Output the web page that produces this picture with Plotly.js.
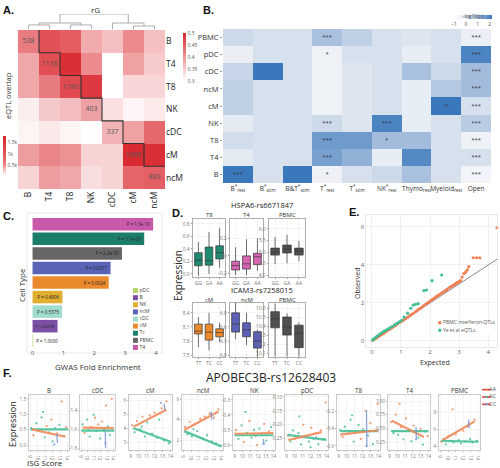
<!DOCTYPE html>
<html>
<head>
<meta charset="utf-8">
<script src="https://cdn.plot.ly/plotly-3.0.1.min.js"></script>
<style>
  html, body { margin: 0; padding: 0; background: #ffffff; }
  #fig { width: 500px; height: 468px; }
</style>
</head>
<body>
<div id="fig"></div>
<script>
// ---------- A: eQTL overlap (lower) and genetic correlation rG (upper) ----------
const cellTypesA = ['B', 'T4', 'T8', 'NK', 'cDC', 'cM', 'ncM'];
// diagonal = eQTLs per cell type, below diagonal = pairwise shared eQTLs
const eqtlOverlap = [
  [538],
  [382, 1118],
  [382, 540, 1180],
  [90, 248, 295, 403],
  [56, 108, 56, 10, 337],
  [421, 500, 461, 202, 202, 1686],
  [202, 421, 382, 155, 202, 810, 889]
];
// rG above the diagonal (row i, columns i+1 ..)
const geneticCorr = [
  [0.46, 0.45, 0.38, 0.36, 0.41, 0.36],
  [0.49, 0.41, 0.30, 0.39, 0.35],
  [0.48, 0.30, 0.34, 0.34],
  [0.33, 0.31, 0.32],
  [0.39, 0.44],
  [0.49],
  []
];
// clustering of rG: [left node, right node, merge height]; leaves are 0..6
const rgMerges = [[0, 1, 0.27], [2, 3, 0.27], [5, 6, 0.2], [7, 8, 0.4], [4, 9, 0.4], [10, 11, 1.0]];
const overlapTicks = [500, 1000, 1500];
const overlapTickText = ['0.5k', '1k', '1.5k'];
const rgTicks = [0.3, 0.35, 0.4, 0.45, 0.5];

// ---------- B: enrichment in chromatin annotations ----------
const annotSets = ['B<sup>*</sup><sub>rest</sub>', 'B<sup>*</sup><sub>stim</sub>', 'B&T<sup>*</sup><sub>stim</sub>',
  'T<sup>*</sup><sub>rest</sub>', 'T<sup>*</sup><sub>stim</sub>', 'NK<sup>*</sup><sub>rest</sub>',
  'Thymo<sub>rest</sub>', 'Myeloid<sub>rest</sub>', 'Open'];
const cellTypesB = ['PBMC', 'pDC', 'cDC', 'ncM', 'cM', 'NK', 'T8', 'T4', 'B'];
const enrichLogP = [
  [0.3, 0.1, 0.1, 0.9, 0.5, 0.1, 0.0, 0.1, -0.4],
  [-0.4, 0.1, 0.1, -0.5, 0.1, 0.1, -0.3, 0.1, 2.0],
  [0.4, 2.2, 0.1, -0.5, 0.0, 0.1, 0.9, 0.3, 1.0],
  [0.5, 0.1, 0.1, -0.5, 0.0, 0.1, -0.3, 0.7, 1.0],
  [0.5, 0.1, 0.1, -0.5, 0.0, 0.1, -0.3, 2.2, 0.1],
  [-0.2, 0.1, 0.1, 0.3, 0.0, 2.0, -0.3, 0.1, 0.6],
  [0.2, 0.1, 0.1, 1.6, 1.6, 1.0, 1.0, 0.1, -0.5],
  [-0.2, 0.1, 0.1, 1.5, 1.2, -0.3, 1.9, 0.1, 0.1],
  [2.3, 0.1, 2.2, -0.5, 0.1, 0.3, 0.9, 0.1, -0.6]
];
const enrichStars = [
  ['', '', '', '***', '', '', '', '', '***'],
  ['', '', '', '*', '', '', '', '', '***'],
  ['', '', '', '', '', '', '', '', '***'],
  ['', '', '', '', '', '', '', '', '***'],
  ['', '', '', '', '', '', '', '*', '***'],
  ['', '', '', '***', '', '***', '', '', '***'],
  ['', '', '', '***', '', '*', '', '', '***'],
  ['', '', '', '***', '', '', '', '', '***'],
  ['***', '', '', '*', '', '', '', '', '***']
];
const logPTicks = [-1, 0, 1, 2];

// ---------- C: GWAS fold enrichment (legend order) ----------
const cellTypesC = ['pDC', 'B', 'NK', 'ncM', 'cDC', 'cM', 'Tc', 'PBMC', 'T4'];
const foldEnrich = [0.02, 0.81, 0.97, 2.53, 0.96, 2.47, 3.62, 2.9, 3.91];
const enrichP = ['P = 1.0000', 'P = 0.6299', 'P = 0.4806', 'P = 0.0017', 'P = 0.5375', 'P = 0.0024',
  'P = 1.1e-08', 'P = 2.2e-05', 'P = 1.3e-10'];
const cellColorsC = ['#b5d36c', '#7b4fa3', '#e1ae30', '#5b63b7', '#a0dccb', '#ea8a2d', '#1d7d6b', '#666666', '#c95aab'];
const foldTicks = [0, 1, 2, 3, 4];

// ---------- D: eQTL box plots ----------
const hspaGenotypes = ['GG', 'GA', 'AA'];
const icamGenotypes = ['TT', 'TC', 'CC'];
const boxT8 = { q1: [0.13, 0.14, 0.24], median: [0.22, 0.21, 0.34], q3: [0.34, 0.43, 0.45], lower: [-0.03, 0.0, 0.1], upper: [0.51, 0.67, 0.74] };
const boxT4 = { q1: [-0.16, -0.15, -0.10], median: [-0.11, -0.09, -0.01], q3: [-0.06, 0.0, 0.03], lower: [-0.22, -0.22, -0.17], upper: [0.10, 0.19, 0.20] };
const boxPbmcH = { q1: [4.87, 4.96, 4.87], median: [5.0, 5.13, 5.04], q3: [5.17, 5.3, 5.17], lower: [4.48, 4.52, 4.6], upper: [5.65, 5.74, 5.48] };
const boxCm = { q1: [7.95, 7.82, 7.89], median: [8.01, 7.99, 7.98], q3: [8.16, 8.16, 8.06], lower: [7.67, 7.6, 7.78], upper: [8.31, 8.4, 8.19] };
const boxNcm = { q1: [6.49, 6.39, 6.15], median: [6.66, 6.54, 6.3], q3: [6.9, 6.69, 6.5], lower: [6.34, 6.21, 5.96], upper: [7.11, 6.9, 6.54] };
const boxPbmcI = { q1: [10.38, 10.3, 10.16], median: [10.48, 10.39, 10.32], q3: [10.56, 10.5, 10.41], lower: [10.06, 10.06, 10.06], upper: [10.65, 10.54, 10.44] };
const dTicks = [
  [0, 0.2, 0.4, 0.6, 0.8], [-0.2, 0, 0.2], [4, 4.5, 5, 5.5, 6],
  [7.5, 7.8, 8.1, 8.4], [6.0, 6.3, 6.6, 6.9], [10.1, 10.2, 10.3, 10.4, 10.5, 10.6]
];
const dTickText = [
  ['0.0', '0.2', '0.4', '0.6', '0.8'], ['-0.2', '0.0', '0.2'], ['4.0', '4.5', '5.0', '5.5', '6.0'],
  ['7.5', '7.8', '8.1', '8.4'], ['6.0', '6.3', '6.6', '6.9'], ['10.1', '10.2', '10.3', '10.4', '10.5', '10.6']
];
const dRanges = [[-0.05, 0.88], [-0.24, 0.42], [3.93, 6.42], [7.46, 8.61], [5.96, 7.11], [10.056, 10.656]];

// ---------- E: QQ plot ----------
const ifnExpected = [0.03, 0.07, 0.12, 0.17, 0.22, 0.28, 0.34, 0.4, 0.46, 0.53, 0.6, 0.67, 0.74, 0.81, 0.88,
  0.95, 1.02, 1.09, 1.16, 1.23, 1.3, 1.37, 1.44, 1.51, 1.58, 1.65, 1.72, 1.79, 1.86, 1.93,
  2.0, 2.07, 2.14, 2.21, 2.28, 2.35, 2.42, 2.5, 2.57, 2.64, 2.7, 2.75, 2.8, 2.85, 2.9,
  2.95, 3.0, 3.05, 3.1, 3.16, 3.22, 3.28, 3.33, 3.48, 3.6, 3.71, 4.3];
const ifnObserved = [0.03, 0.07, 0.12, 0.17, 0.22, 0.28, 0.34, 0.4, 0.46, 0.53, 0.6, 0.67, 0.74, 0.81, 0.89,
  0.96, 1.03, 1.1, 1.17, 1.25, 1.32, 1.4, 1.47, 1.55, 1.63, 1.7, 1.78, 1.86, 1.94, 2.02,
  2.1, 2.17, 2.25, 2.33, 2.4, 2.47, 2.54, 2.62, 2.7, 2.78, 2.84, 2.88, 2.93, 2.98, 3.04,
  3.08, 3.12, 3.18, 3.36, 3.55, 3.62, 3.74, 3.91, 4.38, 4.38, 4.38, 5.96];
const yeExpected = [0.03, 0.08, 0.14, 0.2, 0.27, 0.34, 0.41, 0.48, 0.55, 0.62, 0.7, 0.78, 0.86, 0.94, 1.02,
  1.11, 1.23, 1.34, 1.42, 1.5, 1.59, 1.79, 1.88, 2.07, 2.4];
const yeObserved = [0.05, 0.12, 0.2, 0.27, 0.36, 0.43, 0.5, 0.56, 0.62, 0.69, 0.76, 0.84, 0.92, 1.0, 1.08,
  1.25, 1.46, 1.72, 1.89, 1.93, 1.96, 2.65, 2.68, 3.17, 3.47];
const qqSeries = ['PBMC interferon-QTLs', 'Ye et al eQTLs'];
const qqColors = ['#f07c4f', '#3fbf93'];

// ---------- F: expression vs ISG score by genotype ----------
const fCells = ['B', 'cDC', 'cM', 'ncM', 'NK', 'pDC', 'T8', 'T4', 'PBMC'];
const genotypes = ['AA', 'AC', 'CC'];
const genoColors = { AA: '#f08a5a', AC: '#45bf92', CC: '#7f9ad6' };
const isgTicks = [9, 10, 11, 12, 13, 14];
const fRanges = [[-0.16, 1.63], [-1.82, -1.24], [2.43, 6.36], [1.07, 6.4], [-0.633, -0.267],
  [-0.29, -0.093], [-0.646, -0.017], [0.104, 1.11], [3.53, 10]];
const fTicks = [[0, 0.5, 1, 1.5], [-1.8, -1.6, -1.4], [3, 4, 5, 6], [2, 4, 6], [-0.6, -0.5, -0.4, -0.3],
  [-0.25, -0.2, -0.15, -0.1], [-0.6, -0.4, -0.2], [0.25, 0.5, 0.75, 1], [4, 6, 8]];
const fTickText = [['0.0', '0.5', '1.0', '1.5'], ['-1.8', '-1.6', '-1.4'], ['3', '4', '5', '6'], ['2', '4', '6'],
  ['-0.6', '-0.5', '-0.4', '-0.3'], ['-0.25', '-0.20', '-0.15', '-0.10'], ['-0.6', '-0.4', '-0.2'],
  ['0.25', '0.50', '0.75', '1.00'], ['4', '6', '8']];
const isgScore = [
  [9.1, 9.4, 9.8, 10.2, 10.5, 10.9, 11.2, 11.5, 11.8, 12.0, 12.3, 12.6, 12.9, 13.2, 13.5, 13.8, 10.7, 12.2],
  [9.2, 9.5, 9.9, 10.3, 10.6, 10.9, 11.3, 11.6, 11.9, 12.2, 12.5, 12.8, 13.1, 13.4, 13.7, 10.1, 11.1, 12.7],
  [9.2, 9.5, 9.8, 10.2, 10.5, 10.8, 11.1, 11.4, 11.7, 12.0, 12.3, 12.6, 12.9, 13.2, 13.5, 13.8, 10.4, 12.8],
  [9.2, 9.5, 9.8, 10.1, 10.5, 10.8, 11.2, 11.5, 11.8, 12.1, 12.4, 12.7, 13.0, 13.3, 13.6, 13.9, 10.3, 12.6],
  [9.2, 9.5, 9.9, 10.2, 10.6, 10.9, 11.2, 11.5, 11.9, 12.2, 12.5, 12.8, 13.1, 13.4, 13.7, 10.4, 11.7, 12.7],
  [9.2, 9.5, 9.8, 10.1, 10.5, 10.8, 11.1, 11.4, 11.8, 12.1, 12.4, 12.7, 13.0, 13.3, 13.6, 13.9, 10.6, 12.0],
  [9.2, 9.5, 9.8, 10.2, 10.5, 10.9, 11.2, 11.5, 11.8, 12.1, 12.4, 12.7, 13.0, 13.3, 13.6, 13.9, 10.7, 12.5],
  [9.2, 9.5, 9.8, 10.1, 10.5, 10.8, 11.1, 11.5, 11.8, 12.1, 12.4, 12.7, 13.0, 13.3, 13.6, 13.9, 10.3, 12.4],
  [9.1, 9.4, 9.7, 10.0, 10.4, 10.7, 11.0, 11.4, 11.7, 12.0, 12.3, 12.6, 12.9, 13.2, 13.5, 13.8, 10.6, 12.7]
];
const apobecExpr = [
  [0.55, 0.32, 0.71, 0.48, 0.9, 0.25, 0.62, 0.41, 0.83, 0.12, 0.55, 0.38, 0.66, 1.42, 0.3, 0.58, 1.08, 0.02],
  [-1.55, -1.64, -1.5, -1.68, -1.58, -1.45, -1.62, -1.55, -1.7, -1.52, -1.6, -1.35, -1.57, -1.66, -1.28, -1.61, -1.48, -1.75],
  [4.2, 3.7, 4.5, 3.9, 4.8, 3.4, 4.4, 4.9, 3.6, 5.1, 3.3, 4.6, 5.4, 3.1, 5.9, 2.9, 4.1, 5.8],
  [3.3, 2.6, 3.8, 2.4, 3.6, 2.9, 4.1, 2.2, 4.3, 2.5, 4.6, 1.9, 4.2, 1.7, 5.0, 1.5, 3.1, 4.6],
  [-0.5, -0.56, -0.47, -0.58, -0.52, -0.44, -0.55, -0.5, -0.6, -0.49, -0.53, -0.46, -0.57, -0.51, -0.48, -0.38, -0.54, -0.59],
  [-0.24, -0.26, -0.22, -0.25, -0.23, -0.27, -0.2, -0.24, -0.26, -0.21, -0.25, -0.23, -0.27, -0.22, -0.25, -0.12, -0.17, -0.28],
  [-0.42, -0.5, -0.38, -0.46, -0.3, -0.55, -0.44, -0.36, -0.52, -0.41, -0.2, -0.48, -0.34, -0.58, -0.43, -0.12, -0.25, -0.6],
  [0.62, 0.41, 0.75, 0.38, 0.52, 0.3, 0.68, 0.47, 0.26, 0.55, 0.42, 0.33, 0.49, 0.2, 0.44, 0.36, 0.95, 0.3],
  [4.5, 4.8, 4.2, 5.1, 4.6, 4.4, 5.4, 4.7, 4.3, 5.8, 4.5, 6.3, 4.8, 4.4, 7.1, 4.6, 8.3, 6.6]
];
const sampleGeno = [
  ['AC', 'AA', 'AC', 'AA', 'AC', 'AC', 'AA', 'AC', 'AA', 'AC', 'CC', 'AA', 'AC', 'AA', 'AC', 'AA', 'AC', 'CC'],
  ['AC', 'AA', 'AC', 'AC', 'AA', 'AC', 'AC', 'AA', 'AC', 'AA', 'AC', 'AA', 'AC', 'AC', 'AA', 'AC', 'AA', 'CC'],
  ['AA', 'AC', 'AA', 'AC', 'AA', 'AC', 'AC', 'AA', 'AC', 'AA', 'AC', 'AC', 'AA', 'AC', 'AA', 'AC', 'AC', 'CC'],
  ['AA', 'AC', 'AA', 'AC', 'AA', 'AC', 'AA', 'AC', 'AA', 'AC', 'AA', 'AC', 'AA', 'AC', 'AA', 'AC', 'AC', 'CC'],
  ['AA', 'AC', 'AC', 'AA', 'AC', 'AA', 'AC', 'AC', 'AA', 'AC', 'AC', 'AA', 'AC', 'AA', 'AC', 'AC', 'AA', 'CC'],
  ['AA', 'AC', 'AC', 'AA', 'AC', 'AC', 'AA', 'AC', 'AC', 'AA', 'AC', 'AA', 'AC', 'AA', 'AC', 'AA', 'AC', 'AC'],
  ['AC', 'AA', 'AC', 'AA', 'AC', 'AC', 'AA', 'AC', 'AA', 'AC', 'AA', 'AC', 'AA', 'AC', 'AC', 'AA', 'AC', 'CC'],
  ['AA', 'AC', 'AA', 'AC', 'AA', 'AC', 'AA', 'AC', 'AC', 'AA', 'AC', 'AC', 'AA', 'AC', 'AC', 'AA', 'AA', 'CC'],
  ['AA', 'AC', 'AC', 'AA', 'AC', 'AC', 'AA', 'AC', 'AC', 'AA', 'AC', 'AA', 'AC', 'AC', 'AA', 'AC', 'AA', 'CC']
];
// fitted lines per genotype: [isg start, expr start, isg end, expr end]
const fitAA = [[9.2, 0.51, 13.7, 0.27], [9.2, -1.585, 14.0, -1.59], [9.4, 4.1, 13.5, 5.3], [9.1, 3.0, 13.6, 4.8],
  [9.0, -0.525, 14.0, -0.52], [9.2, -0.254, 13.4, -0.226], [9.2, -0.47, 14.0, -0.42], [9.3, 0.64, 13.4, 0.34], [9.3, 4.7, 13.5, 6.9]];
const fitAC = [[9.0, 0.51, 14.1, 0.51], [9.0, -1.615, 14.1, -1.615], [9.3, 4.0, 14.1, 3.0], [9.1, 2.9, 14.0, 1.4],
  [9.0, -0.535, 14.0, -0.535], [9.1, -0.236, 14.0, -0.254], [9.2, -0.43, 14.0, -0.43], [9.2, 0.45, 14.0, 0.45], [9.1, 4.6, 14.0, 4.5]];
const fitCC = [[12.55, 0.36, 12.65, 0.07], [12.7, -1.62, 12.75, -1.8], [13.2, 5.75, 13.3, 5.3], [12.65, 4.8, 12.75, 4.0],
  [12.7, -0.56, 12.8, -0.6], [12.7, -0.24, 12.75, -0.25], [12.5, -0.19, 12.55, -0.61], [12.4, 0.52, 12.45, 0.29], [12.7, 7.1, 12.75, 6.1]];

// ================= layout helpers =================
const W = 500, H = 468;
const dx = (a, b) => [a / W, b / W];
const dy = (top, bottom) => [1 - bottom / H, 1 - top / H];
const FONT = 'Open Sans, Liberation Sans, sans-serif';
const layout = {
  width: W, height: H, margin: { l: 0, r: 0, t: 0, b: 0 },
  paper_bgcolor: '#ffffff', plot_bgcolor: '#ffffff', showlegend: false,
  font: { family: FONT, size: 7, color: '#333' },
  annotations: [], shapes: []
};
const traces = [];
let axisCount = 0;
function addAxes(xd, yd, xopt, yopt) {
  axisCount++;
  const n = axisCount === 1 ? '' : String(axisCount);
  layout['xaxis' + n] = Object.assign({ domain: xd, anchor: 'y' + n, fixedrange: true }, xopt);
  layout['yaxis' + n] = Object.assign({ domain: yd, anchor: 'x' + n, fixedrange: true }, yopt);
  return { x: 'x' + n, y: 'y' + n, xd, yd };
}
function note(text, x, y, opt) {
  layout.annotations.push(Object.assign({
    text, x: x / W, y: 1 - y / H, xref: 'paper', yref: 'paper', showarrow: false,
    xanchor: 'center', yanchor: 'middle', font: { size: 7, color: '#222', family: FONT }
  }, opt || {}));
}
function panelLetter(letter, x, y) {
  note('<b>' + letter + '</b>', x, y, { xanchor: 'left', font: { size: 11, color: '#111', family: 'Liberation Sans, Arial, sans-serif' } });
}
const hidden = { visible: false };
const idx = n => Array.from({ length: n }, (_, i) => i);

// ================= A =================
const redOverlap = [[0, 'rgb(255,255,255)'], [0.05, 'rgb(252,237,238)'], [0.19, 'rgb(241,178,180)'],
  [0.3, 'rgb(232,123,127)'], [0.6, 'rgb(224,79,85)'], [1, 'rgb(216,35,42)']];
const redRg = [[0, 'rgb(255,255,255)'], [0.5, 'rgb(238,150,152)'], [1, 'rgb(216,35,42)']];
const nA = cellTypesA.length;
const overlapZ = [], rgZ = [];
for (let i = 0; i < nA; i++) {
  const o = [], r = [];
  for (let j = 0; j < nA; j++) {
    o.push(j <= i ? eqtlOverlap[i][j] : null);
    r.push(j > i ? geneticCorr[i][j - i - 1] : null);
  }
  overlapZ.push(o); rgZ.push(r);
}
const axA = addAxes(dx(18, 165), dy(30, 189),
  { range: [-0.5, nA - 0.5], tickvals: idx(nA), ticktext: cellTypesA, tickangle: -90, showgrid: false, zeroline: false,
    ticks: '', tickfont: { size: 8.5, color: '#222' } },
  { range: [nA - 0.5, -0.5], tickvals: idx(nA), ticktext: cellTypesA, side: 'right', showgrid: false, zeroline: false,
    ticks: '', tickfont: { size: 8.5, color: '#222' } });
traces.push({
  type: 'heatmap', xaxis: axA.x, yaxis: axA.y, x: idx(nA), y: idx(nA), z: overlapZ, zmin: 0, zmax: 1800,
  colorscale: redOverlap, hoverinfo: 'skip',
  colorbar: { x: 3 / W, xanchor: 'left', y: 1 - 136 / H, yanchor: 'top', len: 40, lenmode: 'pixels', thickness: 3,
    tickvals: overlapTicks, ticktext: overlapTickText, ticks: '', tickfont: { size: 5, color: '#555' },
    outlinewidth: 0, xpad: 0, ypad: 0 }
});
traces.push({
  type: 'heatmap', xaxis: axA.x, yaxis: axA.y, x: idx(nA), y: idx(nA), z: rgZ, zmin: 0.3, zmax: 0.5,
  colorscale: redRg, hoverinfo: 'skip',
  colorbar: { x: 183 / W, xanchor: 'left', y: 1 - 33 / H, yanchor: 'top', len: 48, lenmode: 'pixels', thickness: 3,
    tickvals: rgTicks, ticks: '', tickfont: { size: 5, color: '#555' }, outlinewidth: 0, xpad: 0, ypad: 0 }
});
// counts printed on the diagonal
traces.push({ type: 'scatter', mode: 'text', xaxis: axA.x, yaxis: axA.y, x: idx(nA), y: idx(nA),
  text: idx(nA).map(i => String(eqtlOverlap[i][i])), textfont: { size: 7, color: '#555' }, hoverinfo: 'skip' });
// staircase separating the two triangles
const stairX = [], stairY = [];
for (let k = 0; k < nA - 1; k++) { stairX.push(k + 0.5, k + 0.5, k + 1.5); stairY.push(k - 0.5, k + 0.5, k + 0.5); }
traces.push({ type: 'scatter', mode: 'lines', xaxis: axA.x, yaxis: axA.y, x: stairX, y: stairY,
  line: { color: '#333', width: 1.1 }, hoverinfo: 'skip', cliponaxis: false });
// dendrogram
const axDen = addAxes(dx(18, 165), dy(14, 29), Object.assign({ range: [-0.5, nA - 0.5] }, hidden), Object.assign({ range: [0, 1.0] }, hidden));
const nodePos = idx(nA), nodeH = idx(nA).map(() => 0);
const denX = [], denY = [];
rgMerges.forEach(([a, b, h]) => {
  denX.push(nodePos[a], nodePos[a], nodePos[b], nodePos[b], null);
  denY.push(nodeH[a], h, h, nodeH[b], null);
  nodePos.push((nodePos[a] + nodePos[b]) / 2); nodeH.push(h);
});
traces.push({ type: 'scatter', mode: 'lines', xaxis: axDen.x, yaxis: axDen.y, x: denX, y: denY,
  line: { color: '#999', width: 0.8 }, hoverinfo: 'skip', cliponaxis: false });
panelLetter('A.', 1, 10);
note('rG', 95, 9, { font: { size: 8, color: '#333', family: FONT } });
note('eQTL overlap', 8, 96, { textangle: -90, font: { size: 7.5, color: '#333', family: FONT } });

// ================= B =================
const blueScale = [[0, '#ffffff'], [0.3125, '#dde5ef'], [0.625, '#a3bcdc'], [1, '#3b78bb']];
const axB = addAxes(dx(223, 491), dy(29, 183),
  { range: [-0.5, annotSets.length - 0.5], tickvals: idx(annotSets.length), ticktext: annotSets, tickangle: 0,
    showgrid: false, zeroline: false, ticks: '', tickfont: { size: 6.5, color: '#333' } },
  { range: [cellTypesB.length - 0.5, -0.5], tickvals: idx(cellTypesB.length), ticktext: cellTypesB, showgrid: false,
    zeroline: false, ticks: 'outside', ticklen: 2, tickcolor: '#999', tickfont: { size: 7.5, color: '#333' } });
traces.push({
  type: 'heatmap', xaxis: axB.x, yaxis: axB.y, x: idx(annotSets.length), y: idx(cellTypesB.length), z: enrichLogP,
  zmin: -1, zmax: 2.2, colorscale: blueScale, hoverinfo: 'skip',
  colorbar: { orientation: 'h', x: 473 / W, xanchor: 'center', y: 1 - 9 / H, yanchor: 'top', len: 38, lenmode: 'pixels',
    thickness: 4, tickvals: logPTicks, ticks: '', tickfont: { size: 5, color: '#444' }, outlinewidth: 0, xpad: 0, ypad: 0,
    title: { text: '-log10(p)', side: 'top', font: { size: 5, color: '#444' } } }
});
// significance stars
const starX = [], starY = [], starT = [];
enrichStars.forEach((row, r) => row.forEach((s, c) => { if (s) { starX.push(c); starY.push(r); starT.push(s); } }));
traces.push({ type: 'scatter', mode: 'text', xaxis: axB.x, yaxis: axB.y, x: starX, y: starY, text: starT,
  textfont: { size: 6, color: '#334' }, hoverinfo: 'skip' });
panelLetter('B.', 201, 10);

// ================= C =================
// bars stacked by fold enrichment, smallest at the bottom
const barOrder = idx(cellTypesC.length).sort((a, b) => foldEnrich[a] - foldEnrich[b]).map(i => cellTypesC[i]);
const axC = addAxes(dx(31, 159), dy(217, 348),
  { range: [-0.05, 4.1], tickvals: foldTicks, showgrid: false, zeroline: false, ticks: '', tickfont: { size: 6, color: '#555' } },
  { type: 'category', categoryorder: 'array', categoryarray: barOrder, range: [-0.5, cellTypesC.length - 0.5],
    showticklabels: false, showgrid: false, zeroline: false, ticks: '' });
traces.push({
  type: 'bar', orientation: 'h', xaxis: axC.x, yaxis: axC.y, x: foldEnrich, y: cellTypesC, width: 0.86,
  marker: { color: cellColorsC, line: { width: 0 } }, text: enrichP, textangle: 0,
  textposition: foldEnrich.map(v => v < 0.5 ? 'outside' : 'inside'), insidetextanchor: 'end',
  textfont: { size: 4.5, color: '#222' }, insidetextfont: { size: 4.5, color: '#222' }, outsidetextfont: { size: 4.5, color: '#222' },
  hoverinfo: 'skip', cliponaxis: false
});
const axCL = addAxes(dx(134, 158), dy(287, 351), Object.assign({ range: [0, 1] }, hidden),
  Object.assign({ type: 'category', categoryorder: 'array', categoryarray: cellTypesC, range: [cellTypesC.length - 0.5, -0.5] }, hidden));
traces.push({
  type: 'scatter', mode: 'markers+text', xaxis: axCL.x, yaxis: axCL.y, x: cellTypesC.map(() => 0.06), y: cellTypesC,
  marker: { symbol: 'square', size: 5, color: cellColorsC }, text: cellTypesC, textposition: 'middle right',
  textfont: { size: 5, color: '#444' }, hoverinfo: 'skip', cliponaxis: false
});
layout.shapes.push({ type: 'rect', xref: 'paper', yref: 'paper', x0: 27 / W, x1: 162 / W, y0: 1 - 353 / H, y1: 1 - 213 / H,
  line: { color: '#e8e8e8', width: 1 }, layer: 'below' });
panelLetter('C.', 1, 216);
note('Cell Type', 21, 285, { textangle: -90, font: { size: 8, color: '#333', family: FONT } });
note('GWAS Fold Enrichment', 98, 366, { font: { size: 8, color: '#333', family: FONT } });

// ================= D =================
const dBoxes = [
  { box: boxT8, cats: hspaGenotypes, color: '#1f8a72', title: 'T8' },
  { box: boxT4, cats: hspaGenotypes, color: '#d764b3', title: 'T4' },
  { box: boxPbmcH, cats: hspaGenotypes, color: '#505050', title: 'PBMC' },
  { box: boxCm, cats: icamGenotypes, color: '#ec8a2c', title: 'cM' },
  { box: boxNcm, cats: icamGenotypes, color: '#5b5fb5', title: 'ncM' },
  { box: boxPbmcI, cats: icamGenotypes, color: '#505050', title: 'PBMC' }
];
const dCols = [[193, 225], [230, 263], [269, 305]];
const dRows = [[219, 277], [303, 357]];
dBoxes.forEach((p, k) => {
  const c = dCols[k % 3], r = dRows[Math.floor(k / 3)];
  const frame = { showline: true, mirror: true, linecolor: '#9a9a9a', linewidth: 0.8, showgrid: true, gridcolor: '#ececec',
    gridwidth: 0.6, zeroline: false, ticks: 'outside', ticklen: 1.5, tickcolor: '#999', tickfont: { size: 5, color: '#777' } };
  const ax = addAxes(dx(c[0], c[1]), dy(r[0], r[1]),
    Object.assign({ type: 'category', categoryorder: 'array', categoryarray: p.cats }, frame),
    Object.assign({ range: dRanges[k], tickvals: dTicks[k], ticktext: dTickText[k] }, frame));
  traces.push({
    type: 'box', xaxis: ax.x, yaxis: ax.y, x: p.cats, q1: p.box.q1, median: p.box.median, q3: p.box.q3,
    lowerfence: p.box.lower, upperfence: p.box.upper, boxpoints: false, width: 0.72, whiskerwidth: 0,
    fillcolor: p.color, line: { color: '#333', width: 0.7 }, hoverinfo: 'skip'
  });
  note(p.title, (c[0] + c[1]) / 2, r[0] - 3.5, { font: { size: 6, color: '#333', family: FONT } });
});
panelLetter('D.', 170, 213);
note('HSPA6-rs6671847', 262, 205, { font: { size: 7.5, color: '#222', family: FONT } });
note('ICAM3-rs7258015', 262, 290, { font: { size: 7.5, color: '#222', family: FONT } });
note('Expression', 178, 276, { textangle: -90, font: { size: 10, color: '#222', family: FONT } });

// ================= E =================
const eFrame = { showline: true, mirror: true, linecolor: '#e2e2e2', linewidth: 0.8, showgrid: true, gridcolor: '#f0f0f0',
  zeroline: false, ticks: '', tickfont: { size: 5.5, color: '#555' } };
const axE = addAxes(dx(366, 497), dy(215, 347),
  Object.assign({ range: [-0.2, 4.3], tickvals: [0, 1, 2, 3, 4] }, eFrame),
  Object.assign({ range: [-0.32, 6.63], tickvals: [0, 2, 4, 6] }, eFrame));
const diagMax = Math.max(...ifnExpected);
traces.push({ type: 'scatter', mode: 'lines', xaxis: axE.x, yaxis: axE.y, x: [0, diagMax], y: [0, diagMax],
  line: { color: '#8a8a8a', width: 1 }, hoverinfo: 'skip' });
traces.push({ type: 'scatter', mode: 'markers', xaxis: axE.x, yaxis: axE.y, x: ifnExpected, y: ifnObserved,
  marker: { size: 3.2, color: qqColors[0] }, hoverinfo: 'skip', cliponaxis: false });
traces.push({ type: 'scatter', mode: 'markers', xaxis: axE.x, yaxis: axE.y, x: yeExpected, y: yeObserved,
  marker: { size: 3.2, color: qqColors[1] }, hoverinfo: 'skip' });
const axEL = addAxes(dx(438, 497), dy(319, 334), Object.assign({ range: [0, 1] }, hidden),
  Object.assign({ type: 'category', categoryorder: 'array', categoryarray: qqSeries, range: [qqSeries.length - 0.5, -0.5] }, hidden));
traces.push({ type: 'scatter', mode: 'markers+text', xaxis: axEL.x, yaxis: axEL.y, x: qqSeries.map(() => 0.03), y: qqSeries,
  marker: { size: 3.5, color: qqColors }, text: qqSeries, textposition: 'middle right',
  textfont: { size: 5, color: '#555' }, hoverinfo: 'skip', cliponaxis: false });
panelLetter('E.', 347, 212);
note('Observed', 357, 283, { textangle: -90, font: { size: 7, color: '#333', family: FONT } });
note('Expected', 435, 362, { font: { size: 7, color: '#333', family: FONT } });

// ================= F =================
const fCols = [[29, 69], [80, 115], [129, 172], [182, 223], [233, 275], [285, 328], [337, 380], [388, 430], [439, 480]];
fCells.forEach((cell, i) => {
  const c = fCols[i];
  const frame = { showline: true, mirror: true, linecolor: '#bdbdbd', linewidth: 0.8, showgrid: true, gridcolor: '#ececec',
    gridwidth: 0.5, zeroline: false, ticks: 'outside', ticklen: 1.2, tickcolor: '#bbb', tickfont: { size: 4.6, color: '#777' } };
  const ax = addAxes(dx(c[0], c[1]), dy(395, 450),
    Object.assign({ range: [8.8, 14.2], tickvals: isgTicks }, frame),
    Object.assign({ range: fRanges[i], tickvals: fTicks[i], ticktext: fTickText[i] }, frame));
  genotypes.forEach(g => {
    const sel = sampleGeno[i].map((v, k) => v === g ? k : -1).filter(k => k >= 0);
    traces.push({ type: 'scatter', mode: 'markers', xaxis: ax.x, yaxis: ax.y,
      x: sel.map(k => isgScore[i][k]), y: sel.map(k => apobecExpr[i][k]),
      marker: { size: 2.3, color: genoColors[g], opacity: 0.8 }, hoverinfo: 'skip' });
  });
  [['AC', fitAC], ['AA', fitAA], ['CC', fitCC]].forEach(([g, fit]) => {
    const f = fit[i];
    traces.push({ type: 'scatter', mode: 'lines', xaxis: ax.x, yaxis: ax.y, x: [f[0], f[2]], y: [f[1], f[3]],
      line: { color: genoColors[g], width: g === 'CC' ? 1.3 : 2.2 }, opacity: 0.9, hoverinfo: 'skip' });
  });
  note(cell, (c[0] + c[1]) / 2, 390.5, { font: { size: 6.2, color: '#333', family: FONT } });
});
const axFL = addAxes(dx(484, 500), dy(386, 408), Object.assign({ range: [0, 1] }, hidden),
  Object.assign({ type: 'category', categoryorder: 'array', categoryarray: genotypes, range: [genotypes.length - 0.5, -0.5] }, hidden));
traces.push({ type: 'scatter', mode: 'markers', xaxis: axFL.x, yaxis: axFL.y, x: genotypes.map(() => 0.15), y: genotypes,
  marker: { symbol: 'line-ew-open', size: 6, line: { color: genotypes.map(g => genoColors[g]), width: 1.5 } },
  hoverinfo: 'skip', cliponaxis: false });
traces.push({ type: 'scatter', mode: 'markers+text', xaxis: axFL.x, yaxis: axFL.y, x: genotypes.map(() => 0.15), y: genotypes,
  marker: { size: 2.5, color: genotypes.map(g => genoColors[g]) }, text: genotypes, textposition: 'middle right',
  textfont: { size: 5.5, color: '#555' }, hoverinfo: 'skip', cliponaxis: false });
panelLetter('F.', 1, 373);
note('APOBEC3B-rs12628403', 271, 377, { font: { size: 12, color: '#222', family: FONT } });
note('Expression', 12, 424, { textangle: -90, font: { size: 9, color: '#222', family: FONT } });
note('ISG Score', 45, 462, { font: { size: 8, color: '#222', family: FONT } });

Plotly.newPlot('fig', traces, layout, { staticPlot: true, displayModeBar: false });
</script>
</body>
</html>
